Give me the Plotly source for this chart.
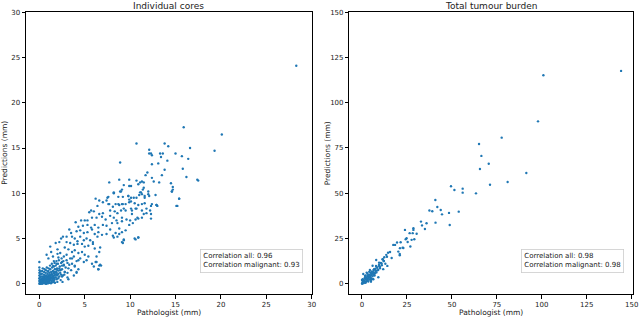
import plotly.graph_objects as go

# ---------------- data: Individual cores (pathologist mm, prediction mm) ----------------
cores_upper = [
    (28.3, 24.1), (20.1, 16.5), (15.9, 17.3), (10.7, 15.5), (13.8, 15.5), (14.2, 15.2), (16.6, 15.0),
    (12.1, 14.8), (12.1, 14.4), (12.3, 14.4), (13.3, 14.4), (13.6, 14.4), (15.0, 14.4), (19.3, 14.7),
    (12.4, 14.2), (13.4, 14.0), (15.7, 14.1), (16.4, 13.8), (8.9, 13.4), (14.1, 13.6), (13.1, 13.3),
    (12.4, 13.2), (13.8, 12.6), (15.8, 12.7), (11.9, 12.3), (11.7, 12.0), (13.5, 12.0), (16.2, 11.8),
    (12.4, 11.7), (17.4, 11.5), (17.5, 11.4), (7.7, 11.2), (8.8, 11.5), (9.9, 11.5), (10.7, 11.4),
    (11.3, 11.3), (11.5, 11.2), (9.3, 10.9), (9.9, 10.8), (10.1, 10.8), (11.1, 11.2), (10.9, 11.0),
    (12.6, 11.3), (13.2, 11.2), (14.5, 11.1), (14.7, 10.7), (14.7, 10.4), (14.6, 10.2), (15.4, 9.4),
    (15.1, 8.6), (15.2, 8.6), (9.1, 10.4), (8.9, 10.2), (8.2, 10.0), (7.6, 9.6), (7.5, 9.5),
    (9.8, 9.7), (10.4, 9.5), (10.7, 9.5), (11.6, 9.7), (12.1, 9.7), (11.3, 9.9), (12.0, 10.2),
    (11.5, 10.6), (11.4, 10.4), (11.1, 10.1), (12.8, 9.8), (9.9, 9.3), (9.9, 9.0), (8.7, 8.8),
    (9.1, 8.8), (11.6, 8.9), (7.7, 8.8), (8.1, 8.5), (9.3, 8.3), (10.1, 8.3), (10.7, 8.3),
    (12.3, 8.6), (13.0, 8.6), (12.3, 7.2), (12.3, 7.7), (12.9, 8.7), (10.5, 5.0), (10.9, 5.1),
    (9.3, 4.9), (9.2, 4.5), (6.6, 2.0), (6.8, 2.0), (6.5, 1.6), (6.2, 2.4),
]

cores_mid = [
    (8.2, 10.1), (9.0, 10.2), (8.7, 9.6), (9.2, 9.6), (9.8, 9.7), (10.1, 9.5), (11.0, 9.8), (11.2, 10.1),
    (11.6, 9.5), (12.0, 9.9), (14.6, 10.2), (6.2, 9.4), (6.6, 9.2), (7.4, 9.2), (7.6, 8.8),
    (8.4, 8.8), (8.8, 8.7), (9.2, 8.8), (9.5, 8.8), (10.1, 9.1), (10.5, 8.9), (10.9, 8.7), (11.3, 8.8),
    (12.4, 8.8), (12.9, 8.7), (15.4, 9.4), (5.7, 8.1), (6.0, 8.0), (6.6, 7.7), (7.0, 7.8), (7.8, 8.1),
    (8.3, 8.0), (8.6, 7.8), (9.0, 8.1), (9.5, 8.1), (10.2, 8.1), (10.6, 8.3), (11.3, 8.1), (11.8, 8.3),
    (12.2, 8.1), (10.2, 7.7), (10.8, 7.3), (11.5, 7.7), (11.8, 7.8), (4.6, 7.0), (5.0, 7.0),
    (5.3, 7.0), (5.8, 7.3), (6.3, 7.3), (6.9, 7.4), (7.3, 7.1), (7.8, 7.5), (8.2, 7.3), (8.5, 7.0),
    (9.1, 7.3), (9.6, 7.1), (10.0, 7.0), (10.6, 7.1), (10.9, 7.2), (11.3, 7.3), (8.0, 6.7), (8.6, 6.7),
    (9.1, 6.9), (9.9, 6.5), (10.3, 6.7), (4.3, 6.3), (4.8, 6.4), (5.3, 6.5), (5.7, 6.2), (6.1, 6.5),
    (6.5, 6.2), (7.0, 6.5), (7.4, 6.4), (7.8, 6.0), (8.8, 6.1), (9.1, 5.7), (9.5, 5.9), (4.1, 5.8),
    (4.5, 5.9), (4.9, 5.6), (5.3, 5.7), (5.8, 6.0), (6.1, 5.5), (6.5, 5.7), (6.9, 5.4), (7.4, 5.5),
    (8.1, 5.3), (8.4, 5.6), (8.8, 5.5), (8.2, 5.1), (8.6, 5.2), (9.1, 4.6), (9.3, 4.8), (10.6, 4.9),
    (10.9, 5.1), (2.6, 5.2), (3.0, 5.2), (3.6, 5.2), (3.9, 5.0), (4.2, 4.7), (4.5, 5.2), (4.9, 4.8),
    (5.2, 5.0), (5.6, 4.8), (5.9, 4.6), (6.4, 5.2), (3.4, 4.5), (3.8, 4.3), (4.2, 4.4), (4.7, 4.4),
    (5.0, 4.1), (5.4, 4.2), (5.9, 4.4), (6.1, 3.9), (2.8, 4.0), (3.2, 3.8), (3.6, 3.5), (3.9, 3.7),
    (4.3, 3.4), (4.7, 3.5), (5.0, 3.2), (5.4, 3.0), (6.7, 4.0), (6.6, 3.5), (6.3, 3.0), (2.3, 3.4),
    (2.7, 3.0), (3.0, 3.2), (3.4, 2.8), (3.8, 3.0), (4.1, 2.5), (4.5, 2.8), (4.9, 2.4), (2.5, 2.4),
    (2.7, 2.1), (3.1, 2.3), (3.6, 2.2), (3.9, 1.9), (5.2, 2.6), (5.8, 2.2), (6.3, 2.4), (6.0, 1.9),
    (6.7, 2.1), (6.5, 1.6), (2.3, 1.5), (2.8, 1.3), (3.2, 1.7), (4.1, 1.3), (4.3, 1.6), (2.5, 0.8),
    (3.1, 0.7), (0.0, 2.4), (1.2, 4.1), (1.3, 3.5), (1.5, 3.0), (1.8, 4.5), (2.0, 3.8), (2.2, 4.6),
    (1.0, 2.8), (0.8, 3.2), (1.6, 2.5), (1.9, 2.2), (2.1, 2.9), (2.4, 5.0), (3.3, 6.0), (3.0, 4.6),
    (5.5, 7.9), (6.4, 8.6), (7.0, 9.0), (4.0, 6.8), (3.5, 5.6), (2.0, 3.3),
]

cores_cluster = [
    (0.0, 0.0), (0.05, 0.1), (0.1, 0.2), (0.1, 0.0), (0.15, 0.35), (0.2, 0.1), (0.2, 0.5), (0.25, 0.25),
    (0.3, 0.0), (0.3, 0.6), (0.35, 0.4), (0.4, 0.15), (0.4, 0.8), (0.45, 0.5), (0.5, 0.3), (0.5, 1.0),
    (0.55, 0.7), (0.6, 0.1), (0.6, 0.45), (0.65, 0.9), (0.7, 0.25), (0.7, 1.2), (0.75, 0.6), (0.8, 0.0),
    (0.8, 0.9), (0.85, 0.4), (0.9, 1.1), (0.9, 0.2), (0.95, 0.7), (1.0, 1.4), (1.0, 0.5), (1.05, 0.95),
    (1.1, 0.1), (1.1, 1.2), (1.15, 0.6), (1.2, 1.6), (1.2, 0.35), (1.25, 0.9), (1.3, 1.3), (1.35, 0.2),
    (1.4, 1.0), (1.4, 1.8), (1.45, 0.55), (1.5, 1.4), (1.55, 0.85), (1.6, 1.9), (1.6, 0.3), (1.65, 1.15),
    (1.7, 1.6), (1.75, 0.7), (1.8, 2.0), (1.85, 1.3), (1.9, 0.5), (1.95, 1.7), (2.0, 1.0), (2.05, 2.2),
    (2.1, 1.45), (2.2, 0.8), (2.25, 1.9), (2.3, 1.2), (2.4, 2.3), (2.5, 1.6), (2.6, 0.9), (2.7, 2.0),
    (2.8, 1.3), (0.0, 0.3), (0.0, 0.6), (0.0, 0.9), (0.0, 1.2), (0.02, 1.5), (0.0, 1.8), (0.05, 0.45),
    (0.08, 0.75), (0.12, 1.05), (0.1, 1.35), (0.18, 0.05), (0.22, 0.8), (0.28, 1.1), (0.3, 1.4),
    (0.33, 0.2), (0.38, 1.7), (0.42, 0.55), (0.48, 0.05), (0.52, 1.3), (0.58, 1.6), (0.62, 0.8),
    (0.68, 0.0), (0.72, 1.5), (0.78, 0.35), (0.82, 1.8), (0.88, 0.65), (0.92, 1.35), (0.98, 0.05),
    (1.02, 1.7), (1.08, 0.3), (1.18, 2.0), (1.28, 0.05), (1.32, 0.7), (1.38, 2.2), (1.48, 0.15),
    (1.52, 1.95), (1.58, 0.6), (1.68, 2.3), (1.72, 0.1), (1.82, 1.0), (1.88, 2.5), (1.98, 0.2),
    (2.08, 0.6), (2.15, 2.6), (2.35, 0.4), (2.45, 2.8), (2.55, 0.2), (2.65, 2.5), (2.75, 1.0),
    (2.9, 1.8), (3.0, 2.6), (3.1, 1.2), (3.2, 0.5), (3.3, 2.1), (3.5, 1.5), (3.6, 2.8), (3.8, 0.9),
    (3.9, 2.0), (4.1, 1.2), (4.3, 2.6), (0.1, 0.05), (0.15, 0.15), (0.25, 0.05), (0.2, 0.3),
    (0.3, 0.25), (0.35, 0.1), (0.45, 0.25), (0.5, 0.6), (0.55, 0.15), (0.6, 0.3), (0.65, 0.55),
    (0.7, 0.45), (0.75, 0.1), (0.8, 0.6), (0.85, 0.8), (0.9, 0.4), (0.95, 0.25), (1.0, 0.75),
    (1.05, 0.15), (1.1, 0.5), (1.15, 0.8), (1.2, 1.0), (1.25, 0.45), (1.3, 0.65), (1.35, 1.1),
    (1.4, 0.35), (1.45, 0.8), (1.5, 0.6), (1.55, 1.2), (1.6, 0.9), (1.65, 0.45), (1.7, 1.3),
    (1.75, 1.0), (1.8, 0.7), (1.85, 1.6), (1.9, 1.2), (1.95, 0.9), (2.0, 1.5), (2.1, 1.1), (2.2, 1.7),
    (2.3, 1.5), (2.4, 1.0), (2.5, 2.0),
]

# ---------------- data: Total tumour burden ----------------
burden_upper = [
    (144.1, 117.6), (100.9, 115.2), (97.9, 89.7), (77.7, 80.7), (65.1, 77.2), (66.4, 70.6), (70.5, 66.3),
    (65.6, 63.4), (91.4, 61.2), (81.0, 56.2), (71.2, 54.7), (49.5, 53.8), (51.4, 51.8), (56.0, 52.5),
    (56.0, 50.3), (63.4, 49.9), (40.8, 46.2), (41.9, 42.4), (37.5, 40.4), (39.1, 40.0), (43.8, 40.7),
    (44.5, 38.3), (48.4, 39.1), (53.8, 39.8), (32.8, 34.3), (35.9, 33.4), (40.9, 33.7), (33.4, 32.2),
    (48.8, 32.4), (35.0, 30.2), (28.6, 30.6), (28.6, 29.7), (23.9, 29.7), (30.4, 27.6), (26.5, 27.9),
    (28.2, 27.9), (24.8, 25.1), (29.1, 24.5), (27.6, 24.2), (24.3, 24.5), (25.4, 23.0), (26.9, 20.5),
    (22.6, 19.9), (17.4, 21.4), (18.4, 21.4), (19.5, 22.7), (21.5, 22.9), (21.1, 19.6), (20.2, 17.7),
    (23.0, 19.7), (14.5, 17.1), (15.6, 17.5), (21.0, 16.4), (21.0, 15.7), (13.5, 15.9), (12.4, 14.6),
    (13.9, 14.9), (11.5, 13.5), (12.2, 12.5), (16.5, 14.2), (7.9, 13.1), (9.5, 11.6), (10.9, 11.1),
    (14.1, 9.8), (5.9, 9.9), (7.8, 9.8), (9.5, 9.8), (10.0, 8.5), (11.8, 8.0), (4.4, 7.6), (6.7, 8.0),
    (8.3, 7.2), (7.2, 5.7), (5.4, 4.8), (2.6, 6.1), (1.7, 4.3), (3.5, 3.9), (5.0, 2.0), (0.0, 2.0),
    (0.7, 0.9),
]

burden_cluster = [
    (0.0, 0.0), (0.2, 0.5), (0.5, 1.2), (0.3, 0.1), (1.0, 0.3), (1.2, 1.8), (1.5, 0.8), (2.0, 2.5),
    (2.2, 1.0), (2.5, 3.2), (2.8, 1.8), (3.0, 4.0), (3.2, 2.6), (3.5, 1.2), (3.8, 3.5), (4.0, 5.0),
    (4.2, 2.2), (4.5, 4.2), (4.8, 6.0), (5.0, 3.0), (5.2, 5.2), (5.5, 6.8), (5.8, 4.0), (6.0, 2.5),
    (6.3, 6.3), (6.5, 7.5), (6.8, 5.5), (7.0, 4.5), (7.5, 7.0), (8.0, 6.2), (8.5, 8.8), (9.0, 7.5),
    (9.5, 10.5), (10.0, 9.2), (10.5, 11.5), (11.0, 10.2), (0.7, 5.3), (1.7, 3.5), (0.4, 2.4),
    (3.5, 2.9), (5.0, 1.1), (3.0, 1.7), (6.3, 2.4), (9.1, 3.5), (1.0, 1.0), (2.0, 0.5), (0.5, 2.0),
    (1.5, 2.8), (2.5, 2.0), (3.5, 4.5), (4.5, 3.2), (5.5, 5.8), (6.5, 4.8), (7.5, 8.2), (8.0, 9.5),
    (2.0, 4.5), (4.0, 6.5), (3.0, 5.5), (12.0, 12.5), (13.0, 11.0), (11.5, 13.5),
]

ticks_cores = [0, 5, 10, 15, 20, 25, 30]
ticks_burden = [0, 25, 50, 75, 100, 125, 150]
corr_cores = ("0.96", "0.93")
corr_burden = ("0.98", "0.98")

BLUE = "#1f77b4"
FONT = "DejaVu Sans"

cores = cores_upper + cores_mid + cores_cluster
burden = burden_upper + burden_cluster

fig = go.Figure()
fig.add_trace(go.Scatter(
    x=[p[0] for p in cores], y=[p[1] for p in cores], mode="markers",
    marker=dict(color=BLUE, size=2.4, line=dict(width=0)), xaxis="x", yaxis="y", showlegend=False))
fig.add_trace(go.Scatter(
    x=[p[0] for p in burden], y=[p[1] for p in burden], mode="markers",
    marker=dict(color=BLUE, size=2.4, line=dict(width=0)), xaxis="x2", yaxis="y2", showlegend=False))

W, H = 640, 318
def fx(px):
    return px / W
def fy(py):
    return 1 - py / H

axis_common = dict(
    showline=True, mirror=True, linecolor="black", linewidth=0.8,
    ticks="outside", ticklen=3.5, tickwidth=0.8, tickcolor="black",
    showgrid=False, zeroline=False, automargin=False,
    tickfont=dict(family=FONT, size=7, color="#222"),
)

fig.update_layout(
    width=W, height=H,
    margin=dict(l=0, r=0, t=0, b=0, autoexpand=False),
    paper_bgcolor="white", plot_bgcolor="white",
    font=dict(family=FONT, size=7, color="#222"),
    xaxis=dict(domain=[fx(26), fx(311.7)], range=[-1.47, 30], tickvals=ticks_cores,
               anchor="y", **axis_common),
    yaxis=dict(domain=[fy(294.3), fy(12.3)], range=[-1.17, 30], tickvals=ticks_cores,
               anchor="x", **axis_common),
    xaxis2=dict(domain=[fx(349.3), fx(633.3)], range=[-7.06, 150.9], tickvals=ticks_burden,
                anchor="y2", **axis_common),
    yaxis2=dict(domain=[fy(294.3), fy(12.3)], range=[-5.9, 150], tickvals=ticks_burden,
                anchor="x2", **axis_common),
)

def label(text, x, y, size=7.5, angle=0):
    fig.add_annotation(text=text, xref="paper", yref="paper", x=fx(x), y=fy(y),
                       showarrow=False, textangle=angle,
                       font=dict(family=FONT, size=size, color="#222"),
                       xanchor="center", yanchor="middle")

label("Individual cores", 168.8, 5.5, 9)
label("Total tumour burden", 491.3, 5.5, 9)
label("Pathologist (mm)", 168.8, 312.0)
label("Pathologist (mm)", 491.3, 312.0)
label("Predictions (mm)", 4.5, 153.3, angle=-90)
label("Predictions (mm)", 327.0, 153.3, angle=-90)

for x0, vals in ((199.5, corr_cores), (521.0, corr_burden)):
    fig.add_annotation(
        text=f"Correlation all: {vals[0]}<br>Correlation malignant: {vals[1]}",
        xref="paper", yref="paper", x=fx(x0), y=fy(248.5), xanchor="left", yanchor="top",
        showarrow=False, align="left", font=dict(family=FONT, size=7, color="#222"),
        bgcolor="white", bordercolor="#cccccc", borderwidth=0.8, borderpad=2.5)

fig.write_html("out.html", config={"displayModeBar": False},
               post_script="document.body.style.margin='0';document.body.style.overflow='hidden';")
